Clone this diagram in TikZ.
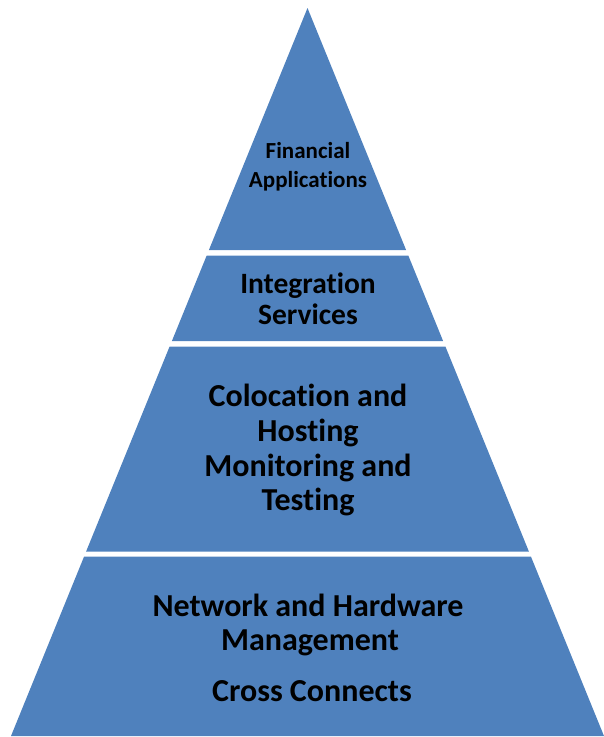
\documentclass[tikz,border=0pt]{standalone}
\usepackage{fontspec}
\setmainfont[Ligatures=NoCommon]{Carlito}
\definecolor{pyrblue}{HTML}{4F81BD}
\begin{document}
\begin{tikzpicture}[x=1pt,y=-1pt,
  layer/.style={fill=pyrblue,draw=none},
  lbl/.style={anchor=base,inner sep=0pt,font=\bfseries\fontsize{32}{37}\selectfont,text=black},
  lblmid/.style={lbl,font=\bfseries\fontsize{29.5}{34}\selectfont},
  lblsmall/.style={lbl,font=\bfseries\fontsize{23}{27}\selectfont}]
\useasboundingbox (0,0) rectangle (604,737);
% layers
\fill[layer] (307.5,8) -- (406.1,250) -- (208.9,250) -- cycle;
\fill[layer] (206.7,255.5) -- (408.3,255.5) -- (443.1,341) -- (171.9,341) -- cycle;
\fill[layer] (169.6,346.5) -- (445.4,346.5) -- (528.9,551.5) -- (86.1,551.5) -- cycle;
\fill[layer] (84.1,556.5) -- (530.9,556.5) -- (604,736) -- (11,736) -- cycle;
% labels
\node[lblsmall] (t1a) at (308,158.5) {Financial};
\node[lblsmall] (t1b) at (308,187) {Applications};
\node[lblmid] (t2a) at (308,293.5) {Integration};
\node[lblmid] (t2b) at (308,324) {Services};
\node[lbl] (t3a) at (308,406) {Colocation and};
\node[lbl] (t3b) at (308,441) {Hosting};
\node[lbl] (t3c) at (308,476) {Monitoring and};
\node[lbl] (t3d) at (308,510) {Testing};
\node[lbl] (t4a) at (308,616.5) {Network and Hardware};
\node[lbl] (t4b) at (310,650) {Management};
\node[lbl] (t4c) at (312,701) {Cross Connects};
\end{tikzpicture}
\end{document}
